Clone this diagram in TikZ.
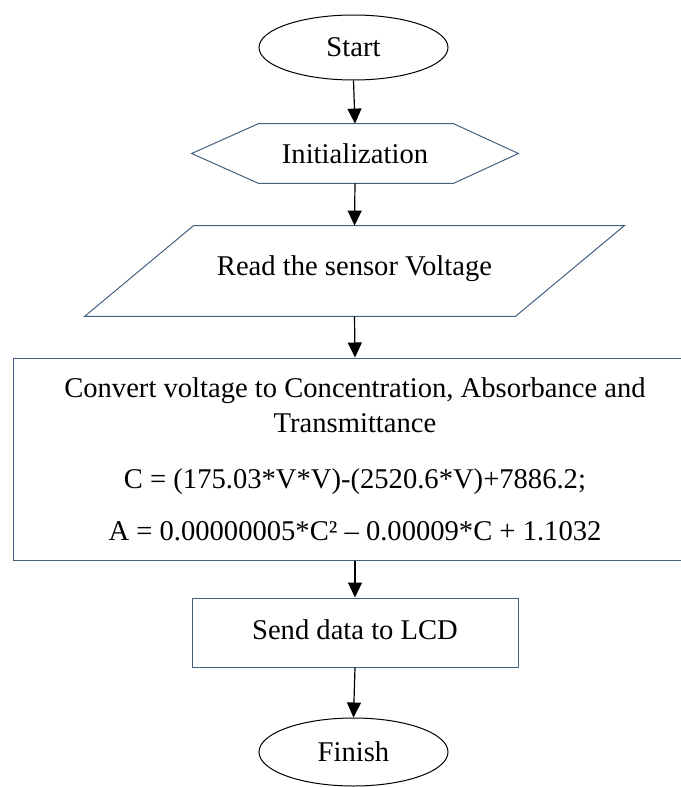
\documentclass[tikz,border=0pt]{standalone}
\usepackage{fontspec}
\setmainfont{Liberation Serif}
\usetikzlibrary{shapes.geometric,arrows.meta}
\definecolor{edgeblue}{RGB}{68,96,128}
\tikzset{
  terminal/.style={draw,ellipse,line width=0.5pt,minimum width=94.5pt,minimum height=32.5pt,inner sep=0pt},
  block/.style={draw=edgeblue,line width=0.5pt,minimum width=163pt,minimum height=34.5pt,inner sep=0pt},
  shapeline/.style={draw=edgeblue,line width=0.5pt},
  flow/.style={-{Triangle[width=7pt,length=7.5pt]},line width=0.6pt}
}

\begin{document}
\begin{tikzpicture}[x=0.5pt,y=-0.5pt,font=\fontsize{14.3pt}{17.5pt}\selectfont]
      \useasboundingbox (0,0) rectangle (680,787);
      \node[terminal] (start) at (353.5,47.5) {Start};
      \node[minimum width=163pt,minimum height=29.5pt,inner sep=0pt] (init) at (355,153.5) {Initialization};
      \draw[shapeline] (init.west) -- ([xshift=33.5pt]init.north west) -- ([xshift=-32.5pt]init.north east) -- (init.east) -- ([xshift=-32.5pt]init.south east) -- ([xshift=33.5pt]init.south west) -- cycle;
      \node[minimum width=215pt,minimum height=45pt,inner sep=0pt] (read) at (354.5,271) {\raisebox{5.5pt}{Read the sensor Voltage}};
      \draw[shapeline] ([xshift=27.25pt]read.north west) -- ([xshift=27.25pt]read.north east) -- ([xshift=-27.25pt]read.south east) -- ([xshift=-27.25pt]read.south west) -- cycle;
      \node[block,minimum width=342pt,minimum height=101pt,align=center] (conv) at (355,459) {Convert voltage to Concentration, Absorbance and\\Transmittance\\[10.5pt]C = (175.03*V*V)-(2520.6*V)+7886.2;\\[8.5pt]A = 0.00000005*C² – 0.00009*C + 1.1032};
      \node[block] (send) at (355,632.5) {\raisebox{3pt}{Send data to LCD}};
      \node[terminal,minimum height=34pt] (finish) at (353.5,752) {Finish};
      \foreach \a/\b in {start/init,init/read,read/conv,conv/send,send/finish}
        \draw[flow] (\a.south) -- (\b.north);
\end{tikzpicture}
\end{document}
